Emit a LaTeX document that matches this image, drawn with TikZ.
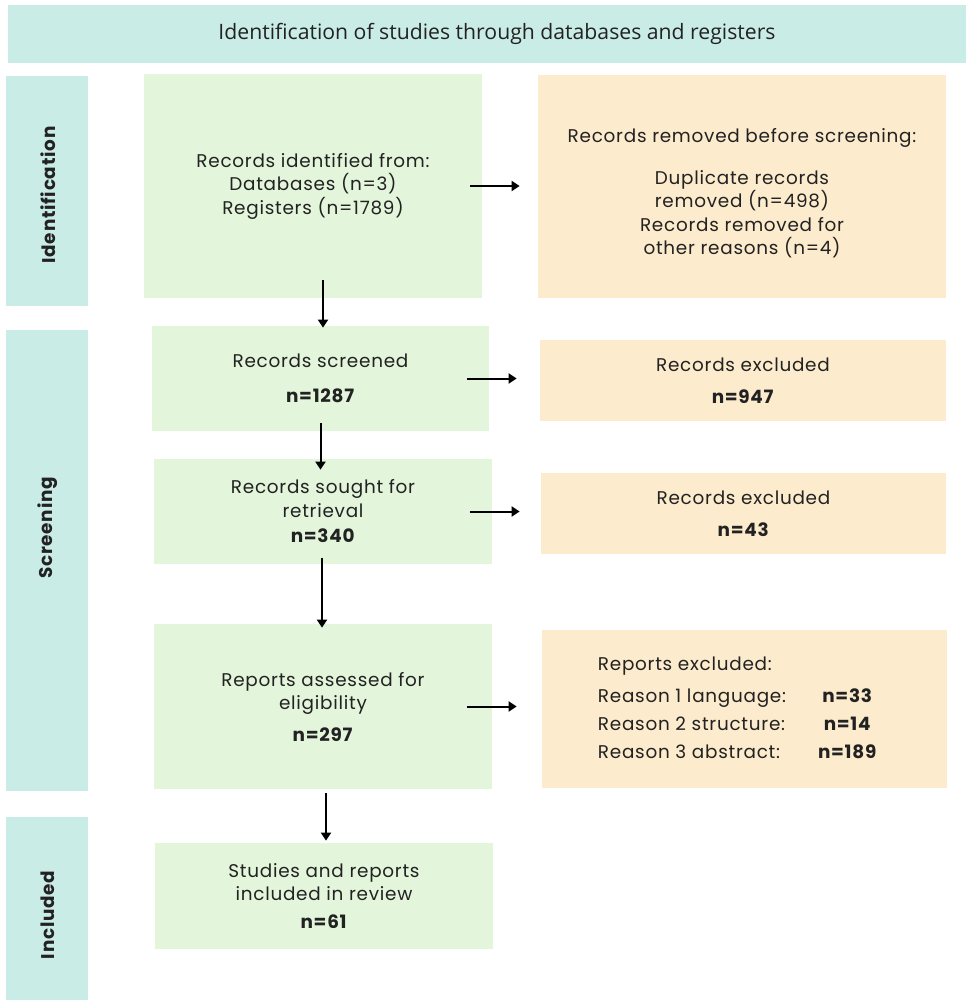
\documentclass[tikz,border=0pt]{standalone}
\usepackage{fontspec}
\setmainfont{Poppins}[LetterSpace=4]
\newfontfamily\headfont{Open Sans}
\usetikzlibrary{arrows.meta}
\definecolor{phaseteal}{HTML}{C9ECE6}
\definecolor{boxgreen}{HTML}{E3F5DB}
\definecolor{boxorange}{HTML}{FCEBCC}
\definecolor{inktext}{HTML}{222222}
\tikzset{
  phase/.style={fill=phaseteal, minimum width=41pt, inner sep=0pt},
  phaselabel/.style={rotate=90, font=\fontsize{9.2}{10}\selectfont\bfseries, text=inktext},
  greenbox/.style={fill=boxgreen, align=center, minimum width=169pt, inner sep=0pt, text=inktext},
  orangebox/.style={fill=boxorange, align=center, minimum width=203pt, inner sep=0pt, text=inktext},
  arr/.style={-{Triangle[width=5pt,length=4pt]}, line width=1pt}
}
\begin{document}
\begin{tikzpicture}[x=0.5pt,y=-0.5pt,font=\fontsize{9.2}{11.75}\selectfont]
	\useasboundingbox (0,0) rectangle (971,1000);
	\node[fill=phaseteal, minimum width=479pt, minimum height=29pt, inner sep=0pt,
	      font=\headfont\fontsize{10.6}{12}\selectfont, text=inktext] (head) at (487,34)
	      {\hspace{10pt}Identification of studies through databases and registers};
	\node[phase, minimum height=115pt] (idbar) at (47,191) {};
	\node[phase, minimum height=230.5pt] (scbar) at (47,560.5) {};
	\node[phase, minimum height=91.5pt] (inbar) at (47,908.5) {};
	\node[phaselabel] (idlab) at (48,195) {Identification};
	\node[phaselabel] (sclab) at (48,528) {Screening};
	\node[phaselabel] (inlab) at (48,915) {Included};
	\node[greenbox, minimum height=112pt] (idrec) at (313,186)
	      {Records identified from:\\Databases (n=3)\\Registers (n=1789)};
	\node[greenbox, minimum width=168.5pt, minimum height=52.5pt] (screen) at (320.5,378.5)
	      {Records screened\\[6pt]\textbf{n=1287}};
	\node[greenbox, minimum height=52.5pt] (sought) at (323,511.5)
	      {Records sought for\\retrieval\\[1pt]\textbf{n=340}};
	\node[greenbox, minimum height=82.5pt] (assess) at (323,706.5)
	      {Reports assessed for\\eligibility\\[4pt]\textbf{n=297}};
	\node[greenbox, minimum height=53pt] (incl) at (324,896)
	      {Studies and reports\\included in review\\[2pt]\textbf{n=61}};
	\node[orangebox, minimum width=204pt, minimum height=111.5pt] (removed) at (742,186.5)
	      {\rule{0pt}{14pt}Records removed before screening:\\[9pt]Duplicate records\\removed (n=498)\\Records removed for\\other reasons (n=4)};
	\node[orangebox, minimum height=40.5pt] (excla) at (743,380.5)
	      {Records excluded\\[4pt]\textbf{n=947}};
	\node[orangebox, minimum width=202.5pt, minimum height=40.5pt] (exclb) at (743.5,513.5)
	      {Records excluded\\[4pt]\textbf{n=43}};
	\node[orangebox, minimum width=202.5pt, minimum height=79pt] (repexcl) at (744.5,709)
	      {\renewcommand{\arraystretch}{1.2}%
	       \begin{tabular}{@{}l@{\hspace{16pt}}c@{\hspace{7pt}}}
	       Reports excluded: & \\[1.5pt]
	       Reason 1 language: & \textbf{n=33}\\
	       Reason 2 structure: & \textbf{n=14}\\
	       Reason 3 abstract: & \textbf{n=189}
	       \end{tabular}};
	\draw[arr, shorten <=-6pt, shorten >=9pt] (idrec.east) -- (idrec.east -| removed.west);
	\draw[arr, shorten <=-11pt, shorten >=11.5pt] (screen.east) -- (screen.east -| excla.west);
	\draw[arr, shorten <=-11pt, shorten >=10.5pt] (sought.east) -- (sought.east -| exclb.west);
	\draw[arr, shorten <=-12.5pt, shorten >=12.5pt] (assess.east) -- (assess.east -| repexcl.west);
	\draw[arr, shorten <=-9pt, shorten >=-1pt] ([xshift=5pt]idrec.south) -- ([xshift=5pt]idrec.south |- screen.north);
	\draw[arr, shorten <=-4pt, shorten >=-5.5pt] (screen.south) -- (screen.south |- sought.north);
	\draw[arr, shorten <=-3pt, shorten >=-2pt] ([xshift=-0.5pt]sought.south) -- ([xshift=-0.5pt]sought.south |- assess.north);
	\draw[arr, shorten <=2pt, shorten >=1pt] ([xshift=1.5pt]assess.south) -- ([xshift=1.5pt]assess.south |- incl.north);
\end{tikzpicture}
\end{document}
